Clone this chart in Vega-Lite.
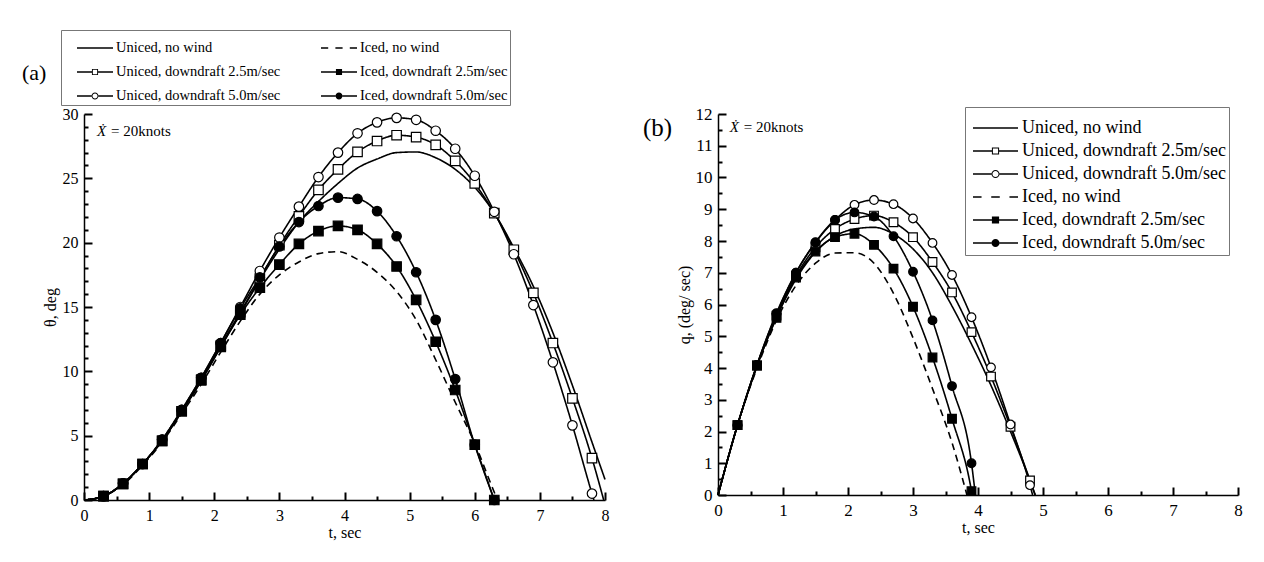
{
  "$schema": "https://vega.github.io/schema/vega-lite/v6.json",
  "background": "white",
  "padding": {"left": 22, "top": 29, "right": 5, "bottom": 5},
  "bounds": "flush",
  "spacing": 113,
  "config": {
    "font": "Liberation Serif",
    "view": {"stroke": null},
    "axis": {"domainColor": "black", "domainWidth": 1.5, "labelColor": "black", "titleColor": "black", "labelFont": "Liberation Serif", "titleFont": "Liberation Serif", "titleFontWeight": "normal", "grid": false, "labelFlush": false, "labelOverlap": false},
    "legend": {"labelFont": "Liberation Serif", "labelColor": "black", "strokeColor": "#777", "labelLimit": 400}
  },
  "resolve": {"scale": {"shape": "independent", "fill": "independent", "strokeDash": "independent"}, "legend": {"shape": "independent", "fill": "independent"}},
  "datasets": {
    "a": [
      {"s":"U0","t":0,"v":0},{"s":"U0","t":0.3,"v":0.3},{"s":"U0","t":0.6,"v":1.25},{"s":"U0","t":0.9,"v":2.8},{"s":"U0","t":1.2,"v":4.6},{"s":"U0","t":1.5,"v":6.85},{"s":"U0","t":1.8,"v":9.25},{"s":"U0","t":2.1,"v":11.9},{"s":"U0","t":2.4,"v":14.5},{"s":"U0","t":2.7,"v":17.1},{"s":"U0","t":3.0,"v":19.5},{"s":"U0","t":3.3,"v":21.6},{"s":"U0","t":3.6,"v":23.2},{"s":"U0","t":3.9,"v":24.6},{"s":"U0","t":4.2,"v":25.8},{"s":"U0","t":4.5,"v":26.5},{"s":"U0","t":4.8,"v":27.0},{"s":"U0","t":5.1,"v":27.05},{"s":"U0","t":5.4,"v":26.6},{"s":"U0","t":5.7,"v":25.7},{"s":"U0","t":6.0,"v":24.3},{"s":"U0","t":6.3,"v":22.3},{"s":"U0","t":6.6,"v":19.6},{"s":"U0","t":6.9,"v":16.6},{"s":"U0","t":7.2,"v":13.0},{"s":"U0","t":7.5,"v":8.9},{"s":"U0","t":7.8,"v":4.5},{"s":"U0","t":8.0,"v":1.6},
      {"s":"U25","t":0,"v":0},{"s":"U25","t":0.3,"v":0.3},{"s":"U25","t":0.6,"v":1.25},{"s":"U25","t":0.9,"v":2.8},{"s":"U25","t":1.2,"v":4.6},{"s":"U25","t":1.5,"v":6.9},{"s":"U25","t":1.8,"v":9.35},{"s":"U25","t":2.1,"v":12.0},{"s":"U25","t":2.4,"v":14.6},{"s":"U25","t":2.7,"v":17.2},{"s":"U25","t":3.0,"v":19.8},{"s":"U25","t":3.3,"v":22.05},{"s":"U25","t":3.6,"v":24.1},{"s":"U25","t":3.9,"v":25.7},{"s":"U25","t":4.2,"v":27.05},{"s":"U25","t":4.5,"v":27.9},{"s":"U25","t":4.8,"v":28.35},{"s":"U25","t":5.1,"v":28.2},{"s":"U25","t":5.4,"v":27.6},{"s":"U25","t":5.7,"v":26.35},{"s":"U25","t":6.0,"v":24.6},{"s":"U25","t":6.3,"v":22.3},{"s":"U25","t":6.6,"v":19.45},{"s":"U25","t":6.9,"v":16.1},{"s":"U25","t":7.2,"v":12.2},{"s":"U25","t":7.5,"v":7.9},{"s":"U25","t":7.8,"v":3.25},{"s":"U25","t":7.98,"v":0},
      {"s":"U50","t":0,"v":0},{"s":"U50","t":0.3,"v":0.3},{"s":"U50","t":0.6,"v":1.3},{"s":"U50","t":0.9,"v":2.8},{"s":"U50","t":1.2,"v":4.7},{"s":"U50","t":1.5,"v":7.0},{"s":"U50","t":1.8,"v":9.5},{"s":"U50","t":2.1,"v":12.2},{"s":"U50","t":2.4,"v":15.0},{"s":"U50","t":2.7,"v":17.8},{"s":"U50","t":3.0,"v":20.4},{"s":"U50","t":3.3,"v":22.8},{"s":"U50","t":3.6,"v":25.1},{"s":"U50","t":3.9,"v":27.0},{"s":"U50","t":4.2,"v":28.5},{"s":"U50","t":4.5,"v":29.35},{"s":"U50","t":4.8,"v":29.7},{"s":"U50","t":5.1,"v":29.55},{"s":"U50","t":5.4,"v":28.7},{"s":"U50","t":5.7,"v":27.3},{"s":"U50","t":6.0,"v":25.2},{"s":"U50","t":6.3,"v":22.4},{"s":"U50","t":6.6,"v":19.1},{"s":"U50","t":6.9,"v":15.15},{"s":"U50","t":7.2,"v":10.7},{"s":"U50","t":7.5,"v":5.8},{"s":"U50","t":7.8,"v":0.5},{"s":"U50","t":7.83,"v":0},
      {"s":"I0","t":0,"v":0},{"s":"I0","t":0.3,"v":0.3},{"s":"I0","t":0.6,"v":1.2},{"s":"I0","t":0.9,"v":2.7},{"s":"I0","t":1.2,"v":4.5},{"s":"I0","t":1.5,"v":6.7},{"s":"I0","t":1.8,"v":9.0},{"s":"I0","t":2.1,"v":11.5},{"s":"I0","t":2.4,"v":13.9},{"s":"I0","t":2.7,"v":16.0},{"s":"I0","t":3.0,"v":17.5},{"s":"I0","t":3.3,"v":18.5},{"s":"I0","t":3.6,"v":19.15},{"s":"I0","t":3.9,"v":19.3},{"s":"I0","t":4.2,"v":18.7},{"s":"I0","t":4.5,"v":17.7},{"s":"I0","t":4.8,"v":16.2},{"s":"I0","t":5.1,"v":14.0},{"s":"I0","t":5.4,"v":10.9},{"s":"I0","t":5.7,"v":7.6},{"s":"I0","t":6.0,"v":4.4},{"s":"I0","t":6.3,"v":0.6},{"s":"I0","t":6.35,"v":0},
      {"s":"I25","t":0,"v":0},{"s":"I25","t":0.3,"v":0.3},{"s":"I25","t":0.6,"v":1.25},{"s":"I25","t":0.9,"v":2.8},{"s":"I25","t":1.2,"v":4.6},{"s":"I25","t":1.5,"v":6.9},{"s":"I25","t":1.8,"v":9.3},{"s":"I25","t":2.1,"v":11.9},{"s":"I25","t":2.4,"v":14.4},{"s":"I25","t":2.7,"v":16.5},{"s":"I25","t":3.0,"v":18.3},{"s":"I25","t":3.3,"v":19.9},{"s":"I25","t":3.6,"v":20.9},{"s":"I25","t":3.9,"v":21.3},{"s":"I25","t":4.2,"v":21.0},{"s":"I25","t":4.5,"v":19.9},{"s":"I25","t":4.8,"v":18.15},{"s":"I25","t":5.1,"v":15.55},{"s":"I25","t":5.4,"v":12.3},{"s":"I25","t":5.7,"v":8.55},{"s":"I25","t":6.0,"v":4.3},{"s":"I25","t":6.3,"v":0},
      {"s":"I50","t":0,"v":0},{"s":"I50","t":0.3,"v":0.3},{"s":"I50","t":0.6,"v":1.3},{"s":"I50","t":0.9,"v":2.8},{"s":"I50","t":1.2,"v":4.7},{"s":"I50","t":1.5,"v":7.0},{"s":"I50","t":1.8,"v":9.5},{"s":"I50","t":2.1,"v":12.2},{"s":"I50","t":2.4,"v":14.9},{"s":"I50","t":2.7,"v":17.3},{"s":"I50","t":3.0,"v":19.7},{"s":"I50","t":3.3,"v":21.6},{"s":"I50","t":3.6,"v":22.85},{"s":"I50","t":3.9,"v":23.5},{"s":"I50","t":4.2,"v":23.4},{"s":"I50","t":4.5,"v":22.45},{"s":"I50","t":4.8,"v":20.5},{"s":"I50","t":5.1,"v":17.7},{"s":"I50","t":5.4,"v":14.0},{"s":"I50","t":5.7,"v":9.4},{"s":"I50","t":6.0,"v":4.3},{"s":"I50","t":6.3,"v":0}
    ],
    "b": [
      {"s":"U0","t":0,"v":0},{"s":"U0","t":0.3,"v":2.2},{"s":"U0","t":0.6,"v":4.05},{"s":"U0","t":0.9,"v":5.6},{"s":"U0","t":1.2,"v":6.8},{"s":"U0","t":1.5,"v":7.65},{"s":"U0","t":1.8,"v":8.15},{"s":"U0","t":2.1,"v":8.38},{"s":"U0","t":2.4,"v":8.43},{"s":"U0","t":2.7,"v":8.22},{"s":"U0","t":3.0,"v":7.75},{"s":"U0","t":3.3,"v":7.0},{"s":"U0","t":3.6,"v":5.95},{"s":"U0","t":3.9,"v":4.75},{"s":"U0","t":4.2,"v":3.45},{"s":"U0","t":4.5,"v":2.0},{"s":"U0","t":4.8,"v":0.45},{"s":"U0","t":4.88,"v":0},
      {"s":"U25","t":0,"v":0},{"s":"U25","t":0.3,"v":2.2},{"s":"U25","t":0.6,"v":4.08},{"s":"U25","t":0.9,"v":5.65},{"s":"U25","t":1.2,"v":6.9},{"s":"U25","t":1.5,"v":7.8},{"s":"U25","t":1.8,"v":8.38},{"s":"U25","t":2.1,"v":8.69},{"s":"U25","t":2.4,"v":8.8},{"s":"U25","t":2.7,"v":8.59},{"s":"U25","t":3.0,"v":8.12},{"s":"U25","t":3.3,"v":7.34},{"s":"U25","t":3.6,"v":6.38},{"s":"U25","t":3.9,"v":5.13},{"s":"U25","t":4.2,"v":3.73},{"s":"U25","t":4.5,"v":2.15},{"s":"U25","t":4.8,"v":0.46},{"s":"U25","t":4.88,"v":0},
      {"s":"U50","t":0,"v":0},{"s":"U50","t":0.3,"v":2.2},{"s":"U50","t":0.6,"v":4.1},{"s":"U50","t":0.9,"v":5.7},{"s":"U50","t":1.2,"v":7.0},{"s":"U50","t":1.5,"v":7.95},{"s":"U50","t":1.8,"v":8.66},{"s":"U50","t":2.1,"v":9.14},{"s":"U50","t":2.4,"v":9.29},{"s":"U50","t":2.7,"v":9.16},{"s":"U50","t":3.0,"v":8.71},{"s":"U50","t":3.3,"v":7.94},{"s":"U50","t":3.6,"v":6.93},{"s":"U50","t":3.9,"v":5.6},{"s":"U50","t":4.2,"v":4.02},{"s":"U50","t":4.5,"v":2.22},{"s":"U50","t":4.8,"v":0.31},{"s":"U50","t":4.84,"v":0},
      {"s":"I0","t":0,"v":0},{"s":"I0","t":0.3,"v":2.2},{"s":"I0","t":0.6,"v":4.0},{"s":"I0","t":0.9,"v":5.5},{"s":"I0","t":1.2,"v":6.6},{"s":"I0","t":1.5,"v":7.3},{"s":"I0","t":1.8,"v":7.62},{"s":"I0","t":2.1,"v":7.63},{"s":"I0","t":2.4,"v":7.3},{"s":"I0","t":2.7,"v":6.35},{"s":"I0","t":3.0,"v":4.95},{"s":"I0","t":3.3,"v":3.35},{"s":"I0","t":3.6,"v":1.65},{"s":"I0","t":3.83,"v":0},
      {"s":"I25","t":0,"v":0},{"s":"I25","t":0.3,"v":2.2},{"s":"I25","t":0.6,"v":4.08},{"s":"I25","t":0.9,"v":5.58},{"s":"I25","t":1.2,"v":6.85},{"s":"I25","t":1.5,"v":7.67},{"s":"I25","t":1.8,"v":8.12},{"s":"I25","t":2.1,"v":8.23},{"s":"I25","t":2.4,"v":7.88},{"s":"I25","t":2.7,"v":7.13},{"s":"I25","t":3.0,"v":5.93},{"s":"I25","t":3.3,"v":4.33},{"s":"I25","t":3.6,"v":2.4},{"s":"I25","t":3.9,"v":0.12},{"s":"I25","t":3.91,"v":0},
      {"s":"I50","t":0,"v":0},{"s":"I50","t":0.3,"v":2.2},{"s":"I50","t":0.6,"v":4.1},{"s":"I50","t":0.9,"v":5.73},{"s":"I50","t":1.2,"v":7.0},{"s":"I50","t":1.5,"v":7.96},{"s":"I50","t":1.8,"v":8.66},{"s":"I50","t":2.1,"v":8.9},{"s":"I50","t":2.4,"v":8.77},{"s":"I50","t":2.7,"v":8.15},{"s":"I50","t":3.0,"v":7.03},{"s":"I50","t":3.3,"v":5.5},{"s":"I50","t":3.6,"v":3.43},{"s":"I50","t":3.9,"v":1.0},{"s":"I50","t":3.96,"v":0}
    ]
  },
  "hconcat": [
    {
      "width": 521,
      "height": 386,
      "title": {"text": "(a)", "anchor": "start", "frame": "group", "fontSize": 22, "fontWeight": "normal", "font": "Liberation Serif", "color": "black", "dx": -62, "dy": 55, "offset": 0},
      "resolve": {"scale": {"shape": "independent", "fill": "independent"}},
      "layer": [
        {
          "data": {"name": "a"},
          "mark": {"type": "line", "interpolate": "monotone", "color": "black", "strokeWidth": 1.6},
          "encoding": {
            "x": {"field": "t", "type": "quantitative", "scale": {"domain": [0, 8], "nice": false},
              "axis": {"title": "t, sec", "values": [0,0.5,1,1.5,2,2.5,3,3.5,4,4.5,5,5.5,6,6.5,7,7.5,8], "labelExpr": "datum.value % 1 === 0 ? format(datum.value, 'd') : ''", "ticks": true, "tickColor": "black", "tickWidth": 2, "tickSize": -8, "tickCount": 100, "tickDash": {"condition": {"test": "datum.value % 1 !== 0", "value": [4, 20]}, "value": [8, 0]}, "labelPadding": 15, "labelFontSize": 16, "titleFontSize": 16, "titlePadding": 1}},
            "y": {"field": "v", "type": "quantitative", "scale": {"domain": [0, 30], "nice": false},
              "axis": {"title": "θ, deg", "values": [0,1,2,3,4,5,6,7,8,9,10,11,12,13,14,15,16,17,18,19,20,21,22,23,24,25,26,27,28,29,30], "labelExpr": "datum.value % 5 === 0 ? format(datum.value, 'd') : ''", "ticks": true, "tickColor": "black", "tickWidth": 2, "tickSize": -8, "tickCount": 100, "tickDash": {"condition": {"test": "datum.value % 5 !== 0", "value": [4, 20]}, "value": [8, 0]}, "labelPadding": 14, "labelFontSize": 16, "titleFontSize": 16, "titlePadding": 4}},
            "detail": {"field": "s"},
            "strokeDash": {"field": "s", "type": "nominal", "scale": {"domain": ["U0","U25","U50","I0","I25","I50"], "range": [[1,0],[1,0],[1,0],[7,5],[1,0],[1,0]]}, "legend": null}
          }
        },
        {
          "data": {"name": "a"},
          "transform": [{"filter": "datum.t > 0 && abs(datum.t*10 - 3*round(datum.t*10/3)) < 0.05 && datum.s != 'U0' && datum.s != 'I0'"}],
          "mark": {"type": "point", "stroke": "black", "strokeWidth": 1.2, "size": 90, "opacity": 1},
          "encoding": {
            "x": {"field": "t", "type": "quantitative"},
            "y": {"field": "v", "type": "quantitative"},
            "shape": {"field": "s", "type": "nominal", "scale": {"domain": ["U25","U50","I25","I50"], "range": ["square","circle","square","circle"]}, "legend": null},
            "fill": {"field": "s", "type": "nominal", "scale": {"domain": ["U25","U50","I25","I50"], "range": ["white","white","black","black"]}, "legend": null}
          }
        },
        {
          "data": {"name": "a"},
          "transform": [{"filter": "false"}],
          "mark": {"type": "point", "opacity": 1, "size": 1296, "stroke": "black", "strokeWidth": 0},
          "encoding": {
            "x": {"field": "t", "type": "quantitative"},
            "y": {"field": "v", "type": "quantitative"},
            "shape": {"field": "s", "type": "nominal",
              "scale": {"domain": ["U0","U25","U50","I0","I25","I50"], "range": [
                "M-1,-0.04H1V0.04H-1Z",
                "M-1,-0.04H-0.17V0.04H-1ZM0.17,-0.04H1V0.04H0.17ZM-0.17,-0.17H0.17V0.17H-0.17ZM-0.12,-0.12V0.12H0.12V-0.12Z",
                "M-1,-0.04H-0.19V0.04H-1ZM0.19,-0.04H1V0.04H0.19ZM-0.19,0A0.19,0.19 0 1 1 0.19,0A0.19,0.19 0 1 1 -0.19,0ZM-0.14,0A0.14,0.14 0 1 0 0.14,0A0.14,0.14 0 1 0 -0.14,0Z",
                "M-1,-0.04H-0.6V0.04H-1ZM-0.2,-0.04H0.2V0.04H-0.2ZM0.6,-0.04H1V0.04H0.6Z",
                "M-1,-0.04H-0.17V0.04H-1ZM0.17,-0.04H1V0.04H0.17ZM-0.17,-0.17H0.17V0.17H-0.17Z",
                "M-1,-0.04H-0.19V0.04H-1ZM0.19,-0.04H1V0.04H0.19ZM-0.19,0A0.19,0.19 0 1 1 0.19,0A0.19,0.19 0 1 1 -0.19,0Z"]},
              "legend": {"orient": "none", "legendX": -23, "legendY": -84, "columns": 2, "title": " ", "titleFontSize": 8, "titlePadding": 1, "labelExpr": "datum.label == 'U0' ? 'Uniced, no wind' : datum.label == 'U25' ? 'Uniced, downdraft 2.5m/sec' : datum.label == 'U50' ? 'Uniced, downdraft 5.0m/sec' : datum.label == 'I0' ? 'Iced, no wind' : datum.label == 'I25' ? 'Iced, downdraft 2.5m/sec' : 'Iced, downdraft 5.0m/sec'", "symbolSize": 1296, "symbolStrokeWidth": 0, "labelFontSize": 14.5, "padding": 2, "symbolOffset": 14, "labelOffset": 3, "columnPadding": 26, "rowPadding": 9, "clipHeight": 14, "strokeColor": "#777"}},
            "fill": {"field": "s", "type": "nominal",
              "scale": {"domain": ["U0","U25","U50","I0","I25","I50"], "range": ["black","black","black","black","black","black"]},
              "legend": {"orient": "none", "legendX": -23, "legendY": -84, "columns": 2, "title": " ", "titleFontSize": 8, "titlePadding": 1, "labelExpr": "datum.label == 'U0' ? 'Uniced, no wind' : datum.label == 'U25' ? 'Uniced, downdraft 2.5m/sec' : datum.label == 'U50' ? 'Uniced, downdraft 5.0m/sec' : datum.label == 'I0' ? 'Iced, no wind' : datum.label == 'I25' ? 'Iced, downdraft 2.5m/sec' : 'Iced, downdraft 5.0m/sec'", "symbolSize": 1296, "symbolStrokeWidth": 0, "labelFontSize": 14.5, "padding": 2, "symbolOffset": 14, "labelOffset": 3, "columnPadding": 26, "rowPadding": 9, "clipHeight": 14, "strokeColor": "#777"}}
          }
        },
        {
          "data": {"values": [{"note": "Ẋ"}]},
          "mark": {"type": "text", "fontStyle": "italic", "fontSize": 15, "align": "left", "baseline": "middle", "color": "black", "font": "Liberation Serif"},
          "encoding": {"x": {"datum": 0.2, "type": "quantitative"}, "y": {"datum": 28.7, "type": "quantitative"}, "text": {"field": "note"}}
        },
        {
          "data": {"values": [{"note": "= 20knots"}]},
          "mark": {"type": "text", "fontSize": 15, "align": "left", "baseline": "middle", "color": "black", "font": "Liberation Serif", "dx": 14},
          "encoding": {"x": {"datum": 0.2, "type": "quantitative"}, "y": {"datum": 28.7, "type": "quantitative"}, "text": {"field": "note"}}
        }
      ]
    },
    {
      "width": 520,
      "height": 381,
      "title": {"text": "(b)", "anchor": "start", "frame": "group", "fontSize": 25, "fontWeight": "normal", "font": "Liberation Serif", "color": "black", "dx": -75, "dy": 36, "offset": 0},
      "resolve": {"scale": {"shape": "independent", "fill": "independent"}},
      "layer": [
        {
          "data": {"name": "b"},
          "mark": {"type": "line", "interpolate": "monotone", "color": "black", "strokeWidth": 1.6},
          "encoding": {
            "x": {"field": "t", "type": "quantitative", "scale": {"domain": [0, 8], "nice": false},
              "axis": {"title": "t, sec", "values": [0,0.5,1,1.5,2,2.5,3,3.5,4,4.5,5,5.5,6,6.5,7,7.5,8], "labelExpr": "datum.value % 1 === 0 ? format(datum.value, 'd') : ''", "ticks": true, "tickColor": "black", "tickWidth": 2, "tickSize": -8, "tickCount": 100, "tickDash": {"condition": {"test": "datum.value % 1 !== 0", "value": [4, 20]}, "value": [8, 0]}, "labelPadding": 15, "labelFontSize": 17, "titleFontSize": 16, "titlePadding": 1}},
            "y": {"field": "v", "type": "quantitative", "scale": {"domain": [0, 12], "nice": false},
              "axis": {"title": "q, (deg/ sec)", "values": [0,0.5,1,1.5,2,2.5,3,3.5,4,4.5,5,5.5,6,6.5,7,7.5,8,8.5,9,9.5,10,10.5,11,11.5,12], "labelExpr": "datum.value % 1 === 0 ? format(datum.value, 'd') : ''", "ticks": true, "tickColor": "black", "tickWidth": 2, "tickSize": -8, "tickCount": 100, "tickDash": {"condition": {"test": "datum.value % 1 !== 0", "value": [4, 20]}, "value": [8, 0]}, "labelPadding": 14, "labelFontSize": 17, "titleFontSize": 16, "titlePadding": 3}},
            "detail": {"field": "s"},
            "strokeDash": {"field": "s", "type": "nominal", "scale": {"domain": ["U0","U25","U50","I0","I25","I50"], "range": [[1,0],[1,0],[1,0],[7,5],[1,0],[1,0]]}, "legend": null}
          }
        },
        {
          "data": {"name": "b"},
          "transform": [{"filter": "datum.t > 0 && abs(datum.t*10 - 3*round(datum.t*10/3)) < 0.05 && datum.s != 'U0' && datum.s != 'I0'"}],
          "mark": {"type": "point", "stroke": "black", "strokeWidth": 1.2, "size": 75, "opacity": 1},
          "encoding": {
            "x": {"field": "t", "type": "quantitative"},
            "y": {"field": "v", "type": "quantitative"},
            "shape": {"field": "s", "type": "nominal", "scale": {"domain": ["U25","U50","I25","I50"], "range": ["square","circle","square","circle"]}, "legend": null},
            "fill": {"field": "s", "type": "nominal", "scale": {"domain": ["U25","U50","I25","I50"], "range": ["white","white","black","black"]}, "legend": null}
          }
        },
        {
          "data": {"name": "b"},
          "transform": [{"filter": "false"}],
          "mark": {"type": "point", "opacity": 1, "size": 2025, "stroke": "black", "strokeWidth": 0},
          "encoding": {
            "x": {"field": "t", "type": "quantitative"},
            "y": {"field": "v", "type": "quantitative"},
            "shape": {"field": "s", "type": "nominal",
              "scale": {"domain": ["U0","U25","U50","I0","I25","I50"], "range": [
                "M-1,-0.035H1V0.035H-1Z",
                "M-1,-0.035H-0.16V0.035H-1ZM0.16,-0.035H1V0.035H0.16ZM-0.16,-0.16H0.16V0.16H-0.16ZM-0.115,-0.115V0.115H0.115V-0.115Z",
                "M-1,-0.035H-0.18V0.035H-1ZM0.18,-0.035H1V0.035H0.18ZM-0.18,0A0.18,0.18 0 1 1 0.18,0A0.18,0.18 0 1 1 -0.18,0ZM-0.135,0A0.135,0.135 0 1 0 0.135,0A0.135,0.135 0 1 0 -0.135,0Z",
                "M-1,-0.035H-0.62V0.035H-1ZM-0.19,-0.035H0.19V0.035H-0.19ZM0.62,-0.035H1V0.035H0.62Z",
                "M-1,-0.035H-0.16V0.035H-1ZM0.16,-0.035H1V0.035H0.16ZM-0.16,-0.16H0.16V0.16H-0.16Z",
                "M-1,-0.035H-0.18V0.035H-1ZM0.18,-0.035H1V0.035H0.18ZM-0.18,0A0.18,0.18 0 1 1 0.18,0A0.18,0.18 0 1 1 -0.18,0Z"]},
              "legend": {"orient": "none", "legendX": 247, "legendY": -7, "columns": 1, "title": " ", "titleFontSize": 10, "titlePadding": 0, "labelExpr": "datum.label == 'U0' ? 'Uniced, no wind' : datum.label == 'U25' ? 'Uniced, downdraft 2.5m/sec' : datum.label == 'U50' ? 'Uniced, downdraft 5.0m/sec' : datum.label == 'I0' ? 'Iced, no wind' : datum.label == 'I25' ? 'Iced, downdraft 2.5m/sec' : 'Iced, downdraft 5.0m/sec'", "symbolSize": 2025, "symbolStrokeWidth": 0, "labelFontSize": 18, "padding": 3, "symbolOffset": 5, "labelOffset": 4, "rowPadding": 5, "clipHeight": 16, "strokeColor": "#777"}},
            "fill": {"field": "s", "type": "nominal",
              "scale": {"domain": ["U0","U25","U50","I0","I25","I50"], "range": ["black","black","black","black","black","black"]},
              "legend": {"orient": "none", "legendX": 247, "legendY": -7, "columns": 1, "title": " ", "titleFontSize": 10, "titlePadding": 0, "labelExpr": "datum.label == 'U0' ? 'Uniced, no wind' : datum.label == 'U25' ? 'Uniced, downdraft 2.5m/sec' : datum.label == 'U50' ? 'Uniced, downdraft 5.0m/sec' : datum.label == 'I0' ? 'Iced, no wind' : datum.label == 'I25' ? 'Iced, downdraft 2.5m/sec' : 'Iced, downdraft 5.0m/sec'", "symbolSize": 2025, "symbolStrokeWidth": 0, "labelFontSize": 18, "padding": 3, "symbolOffset": 5, "labelOffset": 4, "rowPadding": 5, "clipHeight": 16, "strokeColor": "#777"}}
          }
        },
        {
          "data": {"values": [{"note": "Ẋ"}]},
          "mark": {"type": "text", "fontStyle": "italic", "fontSize": 15, "align": "left", "baseline": "middle", "color": "black", "font": "Liberation Serif"},
          "encoding": {"x": {"datum": 0.18, "type": "quantitative"}, "y": {"datum": 11.6, "type": "quantitative"}, "text": {"field": "note"}}
        },
        {
          "data": {"values": [{"note": "= 20knots"}]},
          "mark": {"type": "text", "fontSize": 15, "align": "left", "baseline": "middle", "color": "black", "font": "Liberation Serif", "dx": 14},
          "encoding": {"x": {"datum": 0.18, "type": "quantitative"}, "y": {"datum": 11.6, "type": "quantitative"}, "text": {"field": "note"}}
        }
      ]
    }
  ]
}
